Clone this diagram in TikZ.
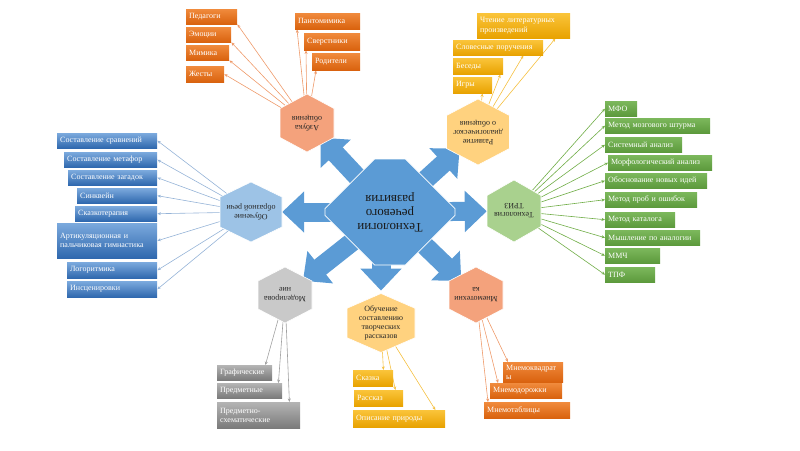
\documentclass[tikz,border=0pt]{standalone}
\usepackage{fontspec}
\setmainfont{Liberation Serif}
\usetikzlibrary{arrows.meta,shapes.misc,calc}

\pgfdeclarelayer{background}
\pgfdeclarelayer{hexlayer}
\pgfsetlayers{background,hexlayer,main}

\definecolor{hubblue}{HTML}{5B9BD5}
\definecolor{orA}{HTML}{F08A3C}
\definecolor{orB}{HTML}{D9620E}
\definecolor{orH}{HTML}{F4A27C}
\definecolor{orL}{HTML}{EE9A6A}
\definecolor{yeA}{HTML}{FAC43A}
\definecolor{yeB}{HTML}{E8A200}
\definecolor{yeH}{HTML}{FFD27F}
\definecolor{yeL}{HTML}{F5C040}
\definecolor{grA}{HTML}{7CB85C}
\definecolor{grB}{HTML}{5C9A3C}
\definecolor{grH}{HTML}{A9D18E}
\definecolor{grL}{HTML}{70AD47}
\definecolor{blA}{HTML}{7BA9DD}
\definecolor{blB}{HTML}{2F68AE}
\definecolor{blH}{HTML}{9DC3E6}
\definecolor{blL}{HTML}{95B3D7}
\definecolor{gyA}{HTML}{B4B4B4}
\definecolor{gyB}{HTML}{7A7A7A}
\definecolor{gyH}{HTML}{C9C9C9}
\definecolor{gyL}{HTML}{A0A0A0}

\newcommand\hexfill[4]{%
  \begin{pgfonlayer}{hexlayer}
  \fill[#4, draw=white, line width=0.6pt] ($(#1)+(0,-#3/2)$) -- ++(#2/2,#3/4) -- ++(0,#3/2)
    -- ++(-#2/2,#3/4) -- ++(-#2/2,-#3/4) -- ++(0,-#3/2) -- cycle;
  \end{pgfonlayer}}

\tikzset{
  lbl/.style={anchor=north west, inner xsep=3pt, inner ysep=1pt, text=white, align=left,
    font=\fontsize{8}{9.2}\selectfont},
  bx/.style 2 args={text width=#1pt, minimum height=#2pt},
  obox/.style={lbl, top color=orA, bottom color=orB},
  ybox/.style={lbl, top color=yeA, bottom color=yeB},
  gbox/.style={lbl, top color=grA, bottom color=grB},
  bbox/.style={lbl, top color=blA, bottom color=blB},
  sbox/.style={lbl, top color=gyA, bottom color=gyB},
  hexa/.style 2 args={inner sep=0pt, align=center, text=black!85,
    font=\fontsize{8}{9}\selectfont, minimum width=#1pt, minimum height=#2pt},
  blk/.style={draw=hubblue, line width=19pt, -{Triangle[width=40pt,length=22pt]}},
  lnk/.style={line width=0.6pt, -{Stealth[length=3.5pt,width=3pt]}},
}

\begin{document}
\begin{tikzpicture}[x=1pt,y=-1pt]
\useasboundingbox (0,0) rectangle (800,450);

\node[chamfered rectangle, fill=hubblue, draw=white, line width=0.6pt, inner sep=0pt,
  minimum width=130pt, minimum height=106pt,
  chamfered rectangle xsep=31pt, chamfered rectangle ysep=30pt, align=center,
  font=\fontsize{13}{14}\selectfont, text=black!90, rotate=180] (hub) at (390,212)
  {Технологии\\речевого\\развития};

\node[hexa={54}{29}, rotate=180] (hexA) at (307,123) {Азбука\\общения};
\hexfill{hexA}{54}{58}{orH}
\node[hexa={63}{33}, rotate=180] (hexD) at (478,132) {Развитие\\диалогическог\\о общения};
\hexfill{hexD}{63}{66}{yeH}
\node[hexa={54}{31}, rotate=180] (hexT) at (514,211) {Технология\\ТРИЗ};
\hexfill{hexT}{54}{62}{grH}
\node[hexa={62}{30}, rotate=180] (hexO) at (251,212) {Обучение\\образной речи};
\hexfill{hexO}{62}{60}{blH}
\node[hexa={54}{28}, rotate=180] (hexM) at (285,295) {Моделирова\\ние};
\hexfill{hexM}{54}{56}{gyH}
\node[hexa={68}{30}] (hexR) at (381,323) {Обучение\\составлению\\творческих\\рассказов};
\hexfill{hexR}{68}{59}{yeH}
\node[hexa={54}{28}, rotate=180] (hexN) at (476,295) {Мнемотехни\\ка};
\hexfill{hexN}{54}{56}{orH}

\node[obox, bx={45}{15}] (ped) at (186,9) {Педагоги};
\node[obox, bx={39}{15}] (emo) at (186,27) {Эмоции};
\node[obox, bx={37}{15}] (mim) at (186,45) {Мимика};
\node[obox, bx={32}{16}] (zhe) at (186,66) {Жесты};
\node[obox, bx={59}{16}] (pan) at (295,13) {Пантомимика};
\node[obox, bx={50}{17}] (sve) at (304,33) {Сверстники};
\node[obox, bx={42}{17}] (rod) at (312,53) {Родители};

\node[ybox, bx={87}{25}] (chten) at (477,13) {Чтение литературных\\произведений};
\node[ybox, bx={84}{15}] (slov) at (453,40) {Словесные поручения};
\node[ybox, bx={44}{16}] (bes) at (453,58) {Беседы};
\node[ybox, bx={33}{16}] (igr) at (453,77) {Игры};

\node[gbox, bx={26}{15}] (mfo) at (605,101) {МФО};
\node[gbox, bx={99}{15}] (shturm) at (605,118) {Метод мозгового штурма};
\node[gbox, bx={71}{15}] (sist) at (605,137) {Системный анализ};
\node[gbox, bx={98}{15}] (morf) at (608,155) {Морфологический анализ};
\node[gbox, bx={96}{15}] (obosn) at (605,173) {Обоснование новых идей};
\node[gbox, bx={86}{15}] (prob) at (605,192) {Метод проб и ошибок};
\node[gbox, bx={64}{15}] (katal) at (605,212) {Метод каталога};
\node[gbox, bx={89}{15}] (mysh) at (605,230) {Мышление по аналогии};
\node[gbox, bx={49}{15}] (mmch) at (605,248) {ММЧ};
\node[gbox, bx={44}{15}] (tpf) at (605,267) {ТПФ};

\node[bbox, bx={94}{15}] (srav) at (57,133) {Составление сравнений};
\node[bbox, bx={87}{15}] (metaf) at (64,152) {Составление метафор};
\node[bbox, bx={83}{15}] (zagad) at (68,170) {Составление загадок};
\node[bbox, bx={74}{15}] (sinkv) at (77,188) {Синквейн};
\node[bbox, bx={76}{15}] (skazk) at (75,206) {Сказкотерапия};
\node[bbox, bx={94}{35}] (artik) at (57,223) {Артикуляционная и\\пальчиковая гимнастика};
\node[bbox, bx={84}{16}] (logor) at (67,262) {Логоритмика};
\node[bbox, bx={84}{16}] (insc) at (67,281) {Инсценировки};

\node[sbox, bx={49}{15}] (graf) at (217,365) {Графические};
\node[sbox, bx={59}{15}] (predm) at (217,383) {Предметные};
\node[sbox, bx={77}{26}] (predsh) at (217,402) {Предметно-\\схематические};

\node[ybox, bx={34}{16}] (skaz) at (353,370) {Сказка};
\node[ybox, bx={43}{16}] (rassk) at (354,390) {Рассказ};
\node[ybox, bx={86}{17}] (opis) at (353,410) {Описание природы};

\node[obox, bx={54}{20}] (kvadr) at (503,362) {Мнемоквадрат\\ы};
\node[obox, bx={66}{15}] (dorozh) at (490,383) {Мнемодорожки};
\node[obox, bx={80}{16}] (tabl) at (484,402) {Мнемотаблицы};

\begin{pgfonlayer}{background}
\draw[blk] (hub.center) -- (hexA);
\draw[blk] (hub.center) -- (hexD);
\draw[blk] (hub.center) -- (hexT);
\draw[blk] (hub.center) -- (hexO);
\draw[blk] (hub.center) -- (hexM);
\draw[blk] (hexR |- hub.center) -- ([yshift=15pt]hexR.north);
\draw[blk] (hub.center) -- (hexN);

\draw[lnk, orL] (hexA) -- (ped.south east);
\draw[lnk, orL] (hexA) -- (emo.south east);
\draw[lnk, orL] (hexA) -- (mim.south east);
\draw[lnk, orL] (hexA) -- (zhe.east);
\draw[lnk, orL] (hexA) -- ([xshift=2pt]pan.south west);
\draw[lnk, orL] (hexA) -- ([xshift=2pt]sve.south west);
\draw[lnk, orL] (hexA) -- ([xshift=4pt]rod.south west);

\draw[lnk, yeL] (hexD) -- ([xshift=-10pt]igr.south east);
\draw[lnk, yeL] (hexD) -- ([xshift=-3pt]bes.south east);
\draw[lnk, yeL] (hexD) -- ([xshift=-20pt]slov.south east);
\draw[lnk, yeL] (hexD) -- ([xshift=-15pt]chten.south east);

\draw[lnk, grL] (hexT) -- (mfo.west);
\draw[lnk, grL] (hexT) -- (shturm.west);
\draw[lnk, grL] (hexT) -- (sist.west);
\draw[lnk, grL] (hexT) -- (morf.west);
\draw[lnk, grL] (hexT) -- (obosn.west);
\draw[lnk, grL] (hexT) -- (prob.west);
\draw[lnk, grL] (hexT) -- (katal.west);
\draw[lnk, grL] (hexT) -- (mysh.west);
\draw[lnk, grL] (hexT) -- (mmch.west);
\draw[lnk, grL] (hexT) -- (tpf.west);

\draw[lnk, blL] (hexO) -- (srav.east);
\draw[lnk, blL] (hexO) -- (metaf.east);
\draw[lnk, blL] (hexO) -- (zagad.east);
\draw[lnk, blL] (hexO) -- (sinkv.east);
\draw[lnk, blL] (hexO) -- (skazk.east);
\draw[lnk, blL] (hexO) -- (artik.east);
\draw[lnk, blL] (hexO) -- (logor.east);
\draw[lnk, blL] (hexO) -- (insc.east);

\draw[lnk, gyL] (hexM) -- ([xshift=-7pt]graf.north east);
\draw[lnk, gyL] (hexM) -- ([xshift=-4pt]predm.north east);
\draw[lnk, gyL] (hexM) -- ([xshift=-11pt]predsh.north east);

\draw[lnk, yeL] (hexR) -- ([xshift=-10pt]skaz.north east);
\draw[lnk, yeL] (hexR) -- ([xshift=-8pt]rassk.north east);
\draw[lnk, yeL] (hexR) -- ([xshift=-10pt]opis.north east);

\draw[lnk, orL] (hexN) -- ([xshift=5pt]kvadr.north west);
\draw[lnk, orL] (hexN) -- ([xshift=8pt]dorozh.north west);
\draw[lnk, orL] (hexN) -- ([xshift=4pt]tabl.north west);
\end{pgfonlayer}
\end{tikzpicture}
\end{document}
